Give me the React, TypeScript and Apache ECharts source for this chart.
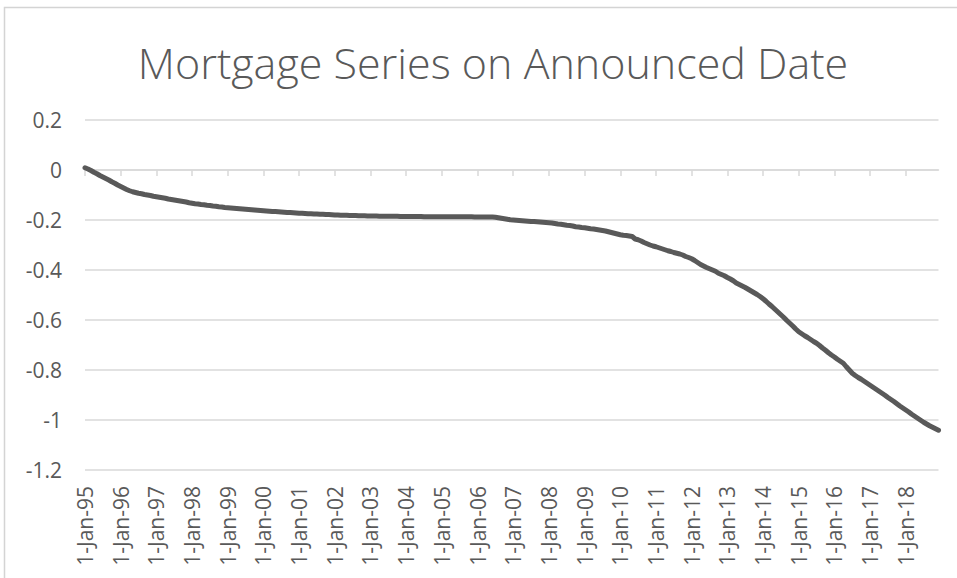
import React, { useEffect, useRef } from "react";
import * as echarts from "echarts";

const TITLE = "Mortgage Series on Announced Date";
const MONTHS = ["Jan", "Feb", "Mar", "Apr", "May", "Jun", "Jul", "Aug", "Sep", "Oct", "Nov", "Dec"];
const FIRST_YEAR = 1995;
const LAST_YEAR = 2018;

const Y_MIN = -1.2;
const Y_MAX = 0.2;
const Y_STEP = 0.2;

// Monthly values, Jan-1995 .. Dec-2018 (one row per year)
const v1995 = [0.009, 0.004, -0.002, -0.009, -0.015, -0.022, -0.028, -0.034, -0.04, -0.047, -0.053, -0.06];
const v1996 = [-0.066, -0.072, -0.078, -0.083, -0.087, -0.09, -0.093, -0.095, -0.098, -0.1, -0.102, -0.105];
const v1997 = [-0.107, -0.109, -0.111, -0.113, -0.116, -0.118, -0.12, -0.122, -0.124, -0.126, -0.128, -0.131];
const v1998 = [-0.133, -0.135, -0.136, -0.138, -0.139, -0.141, -0.142, -0.144, -0.145, -0.147, -0.148, -0.15];
const v1999 = [-0.151, -0.152, -0.153, -0.154, -0.155, -0.156, -0.157, -0.158, -0.159, -0.16, -0.161, -0.162];
const v2000 = [-0.163, -0.164, -0.165, -0.166, -0.166, -0.167, -0.168, -0.169, -0.17, -0.17, -0.171, -0.172];
const v2001 = [-0.173, -0.173, -0.174, -0.175, -0.175, -0.176, -0.176, -0.177, -0.177, -0.178, -0.178, -0.179];
const v2002 = [-0.18, -0.18, -0.181, -0.181, -0.181, -0.182, -0.182, -0.182, -0.183, -0.183, -0.183, -0.184];
const v2003 = [-0.184, -0.184, -0.184, -0.185, -0.185, -0.185, -0.185, -0.185, -0.185, -0.185, -0.186, -0.186];
const v2004 = [-0.186, -0.186, -0.186, -0.186, -0.186, -0.186, -0.187, -0.187, -0.187, -0.187, -0.187, -0.187];
const v2005 = [-0.187, -0.187, -0.187, -0.187, -0.187, -0.187, -0.187, -0.187, -0.187, -0.187, -0.187, -0.188];
const v2006 = [-0.188, -0.188, -0.188, -0.188, -0.188, -0.188, -0.189, -0.191, -0.193, -0.195, -0.197, -0.199];
const v2007 = [-0.2, -0.201, -0.202, -0.203, -0.204, -0.205, -0.206, -0.206, -0.207, -0.208, -0.209, -0.21];
const v2008 = [-0.211, -0.212, -0.214, -0.216, -0.217, -0.219, -0.221, -0.222, -0.224, -0.227, -0.228, -0.23];
const v2009 = [-0.231, -0.233, -0.235, -0.236, -0.238, -0.24, -0.242, -0.244, -0.247, -0.25, -0.253, -0.256];
const v2010 = [-0.259, -0.261, -0.262, -0.264, -0.266, -0.276, -0.279, -0.284, -0.29, -0.295, -0.3, -0.304];
const v2011 = [-0.307, -0.311, -0.315, -0.319, -0.323, -0.326, -0.33, -0.333, -0.336, -0.34, -0.346, -0.35];
const v2012 = [-0.355, -0.362, -0.37, -0.378, -0.384, -0.39, -0.395, -0.4, -0.405, -0.413, -0.418, -0.423];
const v2013 = [-0.43, -0.436, -0.443, -0.452, -0.458, -0.464, -0.47, -0.477, -0.484, -0.491, -0.498, -0.506];
const v2014 = [-0.515, -0.525, -0.536, -0.546, -0.557, -0.568, -0.579, -0.59, -0.602, -0.613, -0.624, -0.636];
const v2015 = [-0.647, -0.655, -0.663, -0.67, -0.678, -0.686, -0.693, -0.702, -0.712, -0.721, -0.731, -0.74];
const v2016 = [-0.748, -0.757, -0.765, -0.773, -0.787, -0.8, -0.813, -0.822, -0.83, -0.837, -0.845, -0.853];
const v2017 = [-0.861, -0.869, -0.877, -0.885, -0.893, -0.901, -0.91, -0.918, -0.926, -0.935, -0.944, -0.952];
const v2018 = [-0.96, -0.968, -0.977, -0.985, -0.993, -1.001, -1.009, -1.016, -1.023, -1.029, -1.035, -1.041];

const VALUES = [
  ...v1995, ...v1996, ...v1997, ...v1998, ...v1999, ...v2000, ...v2001, ...v2002,
  ...v2003, ...v2004, ...v2005, ...v2006, ...v2007, ...v2008, ...v2009, ...v2010,
  ...v2011, ...v2012, ...v2013, ...v2014, ...v2015, ...v2016, ...v2017, ...v2018,
];

const CATEGORIES: string[] = [];
for (let y = FIRST_YEAR; y <= LAST_YEAR; y++) {
  for (let m = 0; m < 12; m++) {
    CATEGORIES.push(`1-${MONTHS[m]}-${String(y % 100).padStart(2, "0")}`);
  }
}

const TEXT = "#595959";
const GRID = "#d9d9d9";
const FONT = "'Open Sans', 'Noto Sans', sans-serif";

export default function App() {
  const ref = useRef<HTMLDivElement>(null);
  useEffect(() => {
    if (!ref.current) return;
    const chart = echarts.init(ref.current, undefined, { renderer: "svg" });
    chart.setOption({
      animation: false,
      backgroundColor: "#ffffff",
      title: {
        text: TITLE,
        left: 488,
        textAlign: "center",
        top: 36,
        textStyle: { color: TEXT, fontSize: 43, fontWeight: 300, fontFamily: FONT },
      },
      graphic: [
        {
          type: "rect",
          shape: { x: 4.5, y: 7.5, width: 1200, height: 1200 },
          style: { fill: "none", stroke: "#d4d4d4", lineWidth: 1.5 },
          silent: true,
        },
      ],
      grid: { left: 85, right: 18.5, top: 120, bottom: 108, containLabel: false },
      xAxis: [
        {
          type: "category",
          data: CATEGORIES,
          boundaryGap: false,
          position: "bottom",
          axisLine: { show: false, onZero: false },
          axisTick: { show: false },
          splitLine: { show: false },
          axisLabel: {
            interval: 11,
            rotate: 90,
            margin: 16,
            color: TEXT,
            fontSize: 21,
            fontFamily: FONT,
          },
        },
        {
          type: "category",
          data: CATEGORIES,
          boundaryGap: false,
          position: "bottom",
          axisLine: { show: true, onZero: true, onZeroAxisIndex: 0, lineStyle: { color: GRID, width: 1.5 } },
          axisTick: { show: true, interval: 11, length: 6, lineStyle: { color: GRID, width: 1.5 } },
          axisLabel: { show: false },
          splitLine: { show: false },
        },
      ],
      yAxis: {
        type: "value",
        min: Y_MIN,
        max: Y_MAX,
        interval: Y_STEP,
        axisLine: { show: false },
        axisTick: { show: false },
        splitLine: { show: true, lineStyle: { color: GRID, width: 1.5 } },
        axisLabel: {
          margin: 23,
          color: TEXT,
          fontSize: 21,
          fontFamily: FONT,
          formatter: (v: number) => String(Math.round(v * 10) / 10),
        },
      },
      series: [
        {
          type: "line",
          xAxisIndex: 0,
          data: VALUES,
          showSymbol: false,
          symbol: "none",
          lineStyle: { color: "#595959", width: 5, cap: "round", join: "round" },
          z: 5,
        },
      ],
    });
    return () => chart.dispose();
  }, []);
  return (
    <div
      ref={ref}
      style={{ position: "fixed", left: 0, top: 0, width: 957, height: 578, background: "#fff" }}
    />
  );
}
